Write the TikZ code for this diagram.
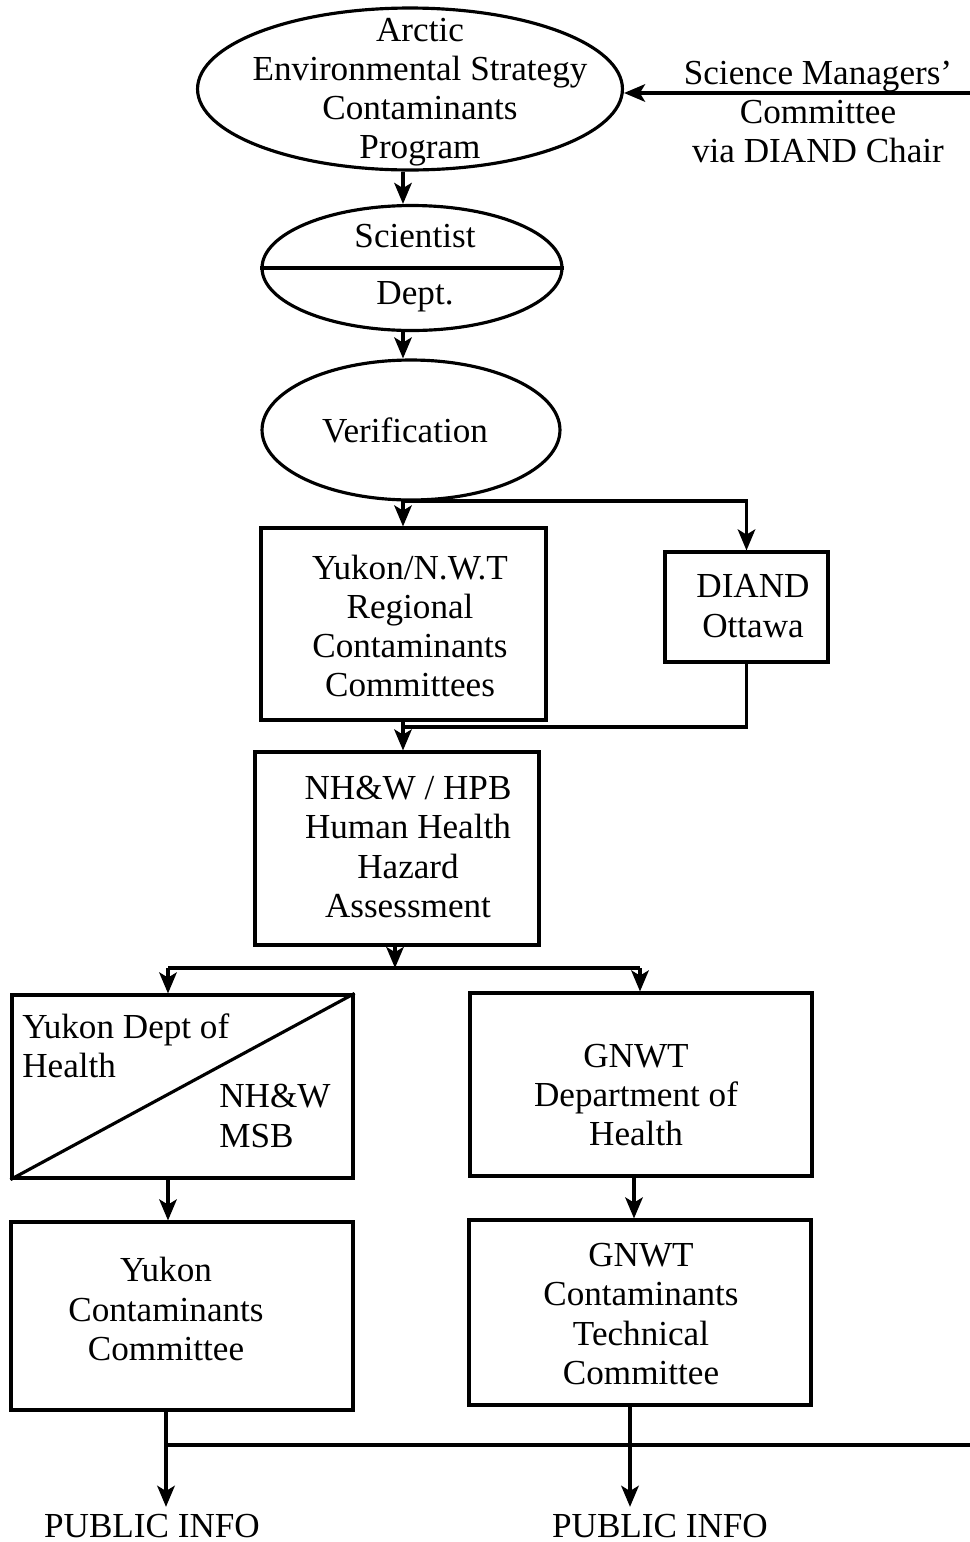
\documentclass[tikz,border=0pt]{standalone}
\usepackage{fontspec}
\setmainfont{Liberation Serif}
\usetikzlibrary{shapes.geometric,arrows.meta}
\begin{document}
\begin{tikzpicture}[x=0.02cm,y=-0.02cm,
  every node/.style={font=\fontsize{20}{22.3}\selectfont},
  ln/.style={line width=1.8pt},
  arr/.style={ln,-{Stealth[length=12pt,width=10pt,inset=3pt]}},
  oval/.style={ellipse,draw,line width=1.8pt,inner sep=0pt},
  boxx/.style={rectangle,draw,line width=1.8pt,inner sep=0pt},
  lbl/.style={inner sep=0pt,align=center}]
\useasboundingbox (0,0) rectangle (970,1542);
% ovals
\node[oval,minimum width=8.5cm,minimum height=3.24cm] (aes) at (410,89) {};
\node[lbl] (aest) at (420,92) {Arctic\\Environmental Strategy\\Contaminants\\Program};
\node[lbl] (smc) at (818,112) {Science Managers'\\Committee\\via DIAND Chair};
\coordinate (smr) at (970,93);
\node[oval,minimum width=6cm,minimum height=2.5cm] (sci) at (412,268) {};
\node[lbl] (scit) at (415,236) {Scientist};
\node[lbl] (dept) at (415,297) {Dept.};
\node[oval,minimum width=5.96cm,minimum height=2.8cm] (ver) at (411,430) {};
\node[lbl] (vert) at (405,430) {Verification};
% boxes
\node[boxx,minimum width=5.7cm,minimum height=3.84cm] (yr) at (403.5,624) {};
\node[lbl] (yrt) at (410,626) {Yukon/N.W.T\\Regional\\Contaminants\\Committees};
\node[boxx,minimum width=3.26cm,minimum height=2.2cm] (diand) at (746.5,607) {};
\node[lbl] (diandt) at (753,606) {DIAND\\Ottawa};
\node[boxx,minimum width=5.68cm,minimum height=3.86cm] (nhw) at (397,848.5) {};
\node[lbl] (nhwt) at (408,847) {NH\&W / HPB\\Human Health\\Hazard\\Assessment};
\node[boxx,minimum width=6.82cm,minimum height=3.66cm] (ydh) at (182.5,1086.5) {};
\node[lbl,anchor=west,align=left] (ydht) at (22,1046) {Yukon Dept of\\Health};
\node[lbl,anchor=west,align=left] (msb) at (219,1116) {NH\&W\\MSB};
\node[boxx,minimum width=6.84cm,minimum height=3.66cm] (gdh) at (641,1084.5) {};
\node[lbl] (gdht) at (636,1095) {GNWT\\Department of\\Health};
\node[boxx,minimum width=6.84cm,minimum height=3.76cm] (ycc) at (182,1316) {};
\node[lbl] (ycct) at (166,1309) {Yukon\\Contaminants\\Committee};
\node[boxx,minimum width=6.84cm,minimum height=3.7cm] (gcc) at (640,1312.5) {};
\node[lbl] (gcct) at (641,1314) {GNWT\\Contaminants\\Technical\\Committee};
\node[lbl] (pub1) at (152,1526) {PUBLIC INFO};
\node[lbl] (pub2) at (660,1526) {PUBLIC INFO};
% divider lines
\draw[ln] (sci.west) -- (sci.east);
\draw[ln] (ydh.south west) -- (ydh.north east);
% coordinates
\coordinate (b1) at (403,501);
\coordinate (m1) at (403,727);
\coordinate (j1) at (395,968);
\coordinate (jl) at (168,968);
\coordinate (jr) at (640,968);
\coordinate (k1) at (166,1445);
\coordinate (rr) at (970,1445);
\coordinate (gx) at (634,0);
\coordinate (px) at (630,0);
% connectors
\draw[arr] (smr) -- (smr -| aes.east);
\draw[arr] (aes.south -| b1) -- (sci.north -| b1);
\draw[arr] (sci.south -| b1) -- (ver.north -| b1);
\draw[ln] (ver.south -| b1) -- (b1);
\draw[arr] (b1) -- (b1 |- yr.north);
\draw[arr] (b1) -| (diand.north);
\draw[arr] (yr.south -| b1) -- (nhw.north -| b1);
\draw[ln] (diand.south) |- (m1);
\draw[arr] (nhw.south -| j1) -- (j1);
\draw[ln] (jl) -- (jr);
\draw[arr] (jl) -- (jl |- ydh.north);
\draw[arr] (jr) -- (jr |- gdh.north);
\draw[arr] (ydh.south -| jl) -- (ycc.north -| jl);
\draw[arr] (gdh.south -| gx) -- (gcc.north -| gx);
\draw[arr] (ycc.south -| k1) -- ([yshift=4pt]pub1.north -| k1);
\draw[ln] (k1) -- (rr);
\draw[arr] (gcc.south -| px) -- ([yshift=4pt]pub2.north -| px);
\end{tikzpicture}
\end{document}
